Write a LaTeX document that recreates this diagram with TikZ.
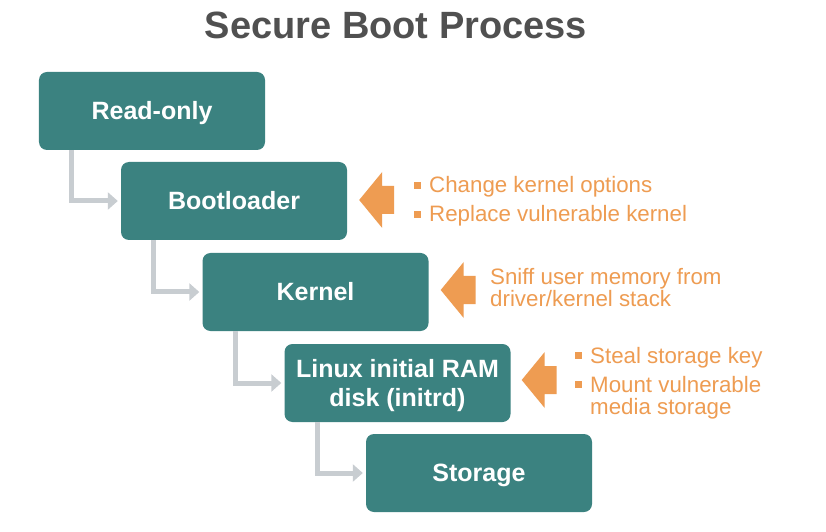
\documentclass[tikz,border=0pt]{standalone}
\usepackage{fontspec}
\setmainfont{Liberation Sans}
\usetikzlibrary{arrows.meta}
\definecolor{bootteal}{RGB}{59,130,128}
\definecolor{bootorange}{RGB}{238,156,82}
\definecolor{titlegray}{RGB}{80,80,80}
\definecolor{linkgray}{RGB}{200,205,209}
\begin{document}
\begin{tikzpicture}[x=1bp,y=-1bp,
  titlestyle/.style={text=titlegray, font=\fontsize{38bp}{44bp}\selectfont\bfseries, anchor=base, inner sep=0},
  stagebox/.style={fill=bootteal, rounded corners=8bp, minimum width=226bp, minimum height=78bp, inner sep=0},
  stagetext/.style={text=white, font=\fontsize{25bp}{29bp}\selectfont\bfseries, anchor=base, inner sep=0},
  link/.style={draw=linkgray, line width=5bp, line join=miter, -{Triangle[length=10bp,width=17bp]}},
  attack/.style={fill=bootorange},
  note/.style={text=bootorange, font=\fontsize{22.3bp}{24bp}\selectfont, anchor=base west, inner sep=0},
  bulletsq/.style={fill=bootorange, minimum size=7bp, inner sep=0}]
\useasboundingbox[fill=white] (0,0) rectangle (826,532);
\node[titlestyle] (title) at (396,39) {Secure Boot Process};

\node[stagebox] (ro) at (152,111) {};
\node[stagebox] (bl) at (234,201) {};
\node[stagebox] (kn) at (315.5,292) {};
\node[stagebox] (lx) at (397.5,383) {};
\node[stagebox] (st) at (479,473) {};

\node[stagetext, yshift=-8.8bp] (rot) at (ro.center) {Read-only};
\node[stagetext, yshift=-8.8bp] (blt) at (bl.center) {Bootloader};
\node[stagetext, yshift=-8.8bp] (knt) at (kn.center) {Kernel};
\node[stagetext, yshift=6bp] (lxt1) at (lx.center) {Linux initial RAM};
\node[stagetext, yshift=-23bp] (lxt2) at (lx.center) {disk (initrd)};
\node[stagetext, yshift=-8.8bp] (stt) at (st.center) {Storage};

\draw[link] ([xshift=33bp]ro.south west) |- ([xshift=-3bp]bl.west);
\draw[link] ([xshift=33bp]bl.south west) |- ([xshift=-3bp]kn.west);
\draw[link] ([xshift=33bp]kn.south west) |- ([xshift=-3bp]lx.west);
\draw[link] ([xshift=33bp]lx.south west) |- ([xshift=-3bp]st.west);

\coordinate (a1) at ([xshift=12bp,yshift=1bp]bl.east);
\coordinate (a2) at ([xshift=12bp,yshift=2bp]kn.east);
\coordinate (a3) at ([xshift=11bp,yshift=3bp]lx.east);
\foreach \a in {a1,a2,a3}{
  \fill[attack, shift={(\a)}] (0,0) -- (23,-28) -- (23,-14) -- (35,-14) -- (35,14) -- (23,14) -- (23,28) -- cycle;
}

\node[bulletsq] (b1) at (417,186) {};
\node[note] (n1) at (429,193) {Change kernel options};
\node[bulletsq] (b2) at (417,214.5) {};
\node[note] (n2) at (429,221.5) {Replace vulnerable kernel};

\node[note] (n3) at (490,285) {Sniff user memory from};
\node[note] (n4) at (490,306.5) {driver/kernel stack};

\node[bulletsq] (b3) at (578,355.5) {};
\node[note] (n5) at (590,363) {Steal storage key};
\node[bulletsq] (b4) at (578,384.5) {};
\node[note] (n6) at (590,392) {Mount vulnerable};
\node[note] (n7) at (590,414) {media storage};
\end{tikzpicture}
\end{document}
